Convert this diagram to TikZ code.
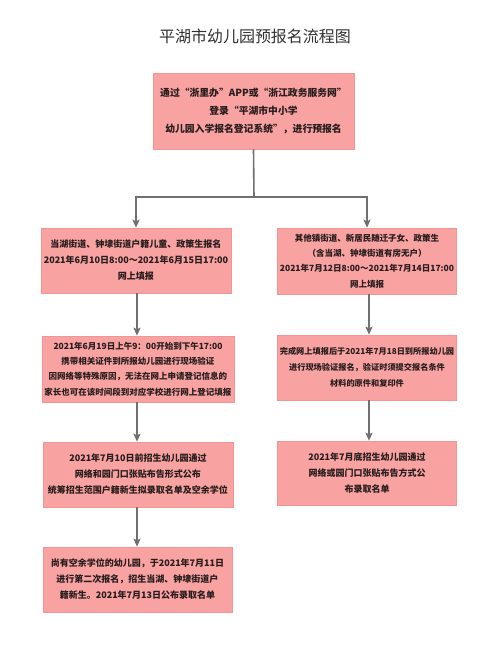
\documentclass[tikz,border=0pt]{standalone}
\usepackage{fontspec}
\setmainfont{Noto Sans CJK SC}
\newfontfamily\cjk{Noto Sans CJK SC}
\usetikzlibrary{arrows.meta}
\definecolor{boxfill}{RGB}{248,162,162}
\definecolor{boxline}{RGB}{244,148,148}
\definecolor{arrowgray}{RGB}{112,112,112}
\definecolor{txt}{RGB}{40,28,28}
\definecolor{titlecol}{RGB}{50,50,50}
\tikzset{
  stepbox/.style={draw=boxline, line width=0.6pt, fill=boxfill, align=center,
    text=txt, inner sep=0pt, font=\cjk\bfseries\fontsize{9}{16}\selectfont},
  smallbox/.style={stepbox, font=\cjk\bfseries\fontsize{8.5}{15.2}\selectfont},
  flow/.style={draw=arrowgray, line width=1.6pt, -{Stealth[length=8pt,width=7pt,inset=1.5pt]}},
  plainflow/.style={draw=arrowgray, line width=1.6pt}
}
\begin{document}
\begin{tikzpicture}[x=1pt,y=-1pt]
\useasboundingbox[fill=white] (0,0) rectangle (500,649);
\node[text=titlecol, font=\cjk\fontsize{16}{18}\selectfont] (title) at (255,36) {平湖市幼儿园预报名流程图};

\node[stepbox, minimum width=201pt, minimum height=76pt, font=\cjk\bfseries\fontsize{9.8}{18}\selectfont] (top) at (253.5,111)
  {通过“浙里办”APP或“浙江政务服务网”\\登录“平湖市中小学\\幼儿园入学报名登记系统”，进行预报名};

\node[stepbox, minimum width=190pt, minimum height=65pt] (L1) at (136,260.5)
  {当湖街道、钟埭街道户籍儿童、政策生报名\\2021年6月10日8:00～2021年6月15日17:00\\网上填报};
\node[smallbox, minimum width=179pt, minimum height=66pt] (R1) at (367,261)
  {其他镇街道、新居民随迁子女、政策生\\（含当湖、钟埭街道有房无户）\\2021年7月12日8:00～2021年7月14日17:00\\网上填报};

\node[smallbox, minimum width=192pt, minimum height=66pt] (L2) at (138,369)
  {2021年6月19日上午9：00开始到下午17:00\\携带相关证件到所报幼儿园进行现场验证\\因网络等特殊原因，无法在网上申请登记信息的\\家长也可在该时间段到对应学校进行网上登记填报};
\node[stepbox, minimum width=179pt, minimum height=65pt, font=\cjk\bfseries\fontsize{8.2}{16}\selectfont] (R2) at (367,367.5)
  {完成网上填报后于2021年7月18日到所报幼儿园\\进行现场验证报名，验证时须提交报名条件\\材料的原件和复印件};

\node[stepbox, minimum width=190pt, minimum height=65pt] (L3) at (138,474.5)
  {2021年7月10日前招生幼儿园通过\\网络和园门口张贴布告形式公布\\统筹招生范围户籍新生拟录取名单及空余学位};
\node[stepbox, minimum width=179pt, minimum height=64pt] (R3) at (367,473)
  {2021年7月底招生幼儿园通过\\网络或园门口张贴布告方式公\\布录取名单};

\node[stepbox, minimum width=189pt, minimum height=65pt] (L4) at (137.5,579.5)
  {尚有空余学位的幼儿园，于2021年7月11日\\进行第二次报名，招生当湖、钟埭街道户\\籍新生。2021年7月13日公布录取名单};

\coordinate (j) at (254,197);
\draw[plainflow] (top.south) -- (j);
\draw[flow] ([xshift=0.8pt]j) -| (L1.north);
\draw[flow] ([xshift=-0.8pt]j) -| (R1.north);

\coordinate (a1) at (137,0);
\draw[flow] (L1.south -| a1) -- (L2.north -| a1);
\draw[flow] (L2.south -| a1) -- (L3.north -| a1);
\draw[flow] (L3.south -| a1) -- (L4.north -| a1);
\coordinate (b1) at (369,0);
\draw[flow] (R1.south -| b1) -- (R2.north -| b1);
\draw[flow] (R2.south -| b1) -- (R3.north -| b1);
\end{tikzpicture}
\end{document}
